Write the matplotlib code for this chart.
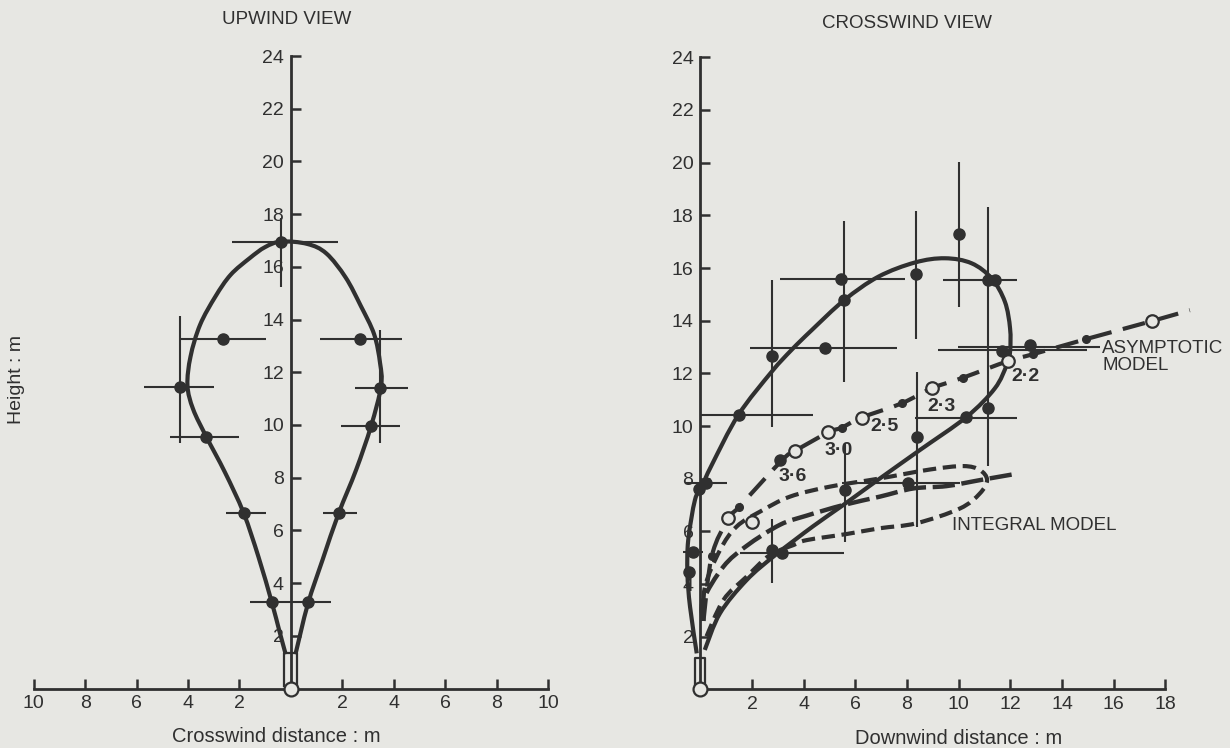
import numpy as np
import matplotlib
matplotlib.use("Agg")
from matplotlib import pyplot as plt
from matplotlib.path import Path
from matplotlib.patches import PathPatch

plt.rcParams['font.family'] = ['Liberation Sans', 'DejaVu Sans']

INK = '#303030'
PAPER = '#e7e7e3'

# ---------------- upwind view (left) ----------------
up_curve_x = [-0.2, -0.45, -0.74, -1.26, -1.84, -2.56, -3.29, -3.8, -4.02, -3.9, -3.53,
              -2.93, -2.34, -1.6, -1.0, -0.37, 0.64, 1.38, 2.13, 2.72, 3.24, 3.47, 3.51,
              3.12, 2.54, 1.86, 1.24, 0.66, 0.18]
up_curve_y = [1.3, 2.2, 3.27, 5.0, 6.67, 8.2, 9.56, 10.6, 11.5, 12.6, 13.8,
              14.88, 15.7, 16.33, 16.75, 16.96, 16.87, 16.51, 15.6, 14.52, 13.44, 12.35, 11.48,
              9.96, 8.3, 6.65, 4.9, 3.2, 1.3]

up_pts_x = [-0.37, -2.62, -4.31, -3.29, -1.84, -0.74, 0.67, 1.87, 3.11, 3.47, 2.68]
up_pts_y = [16.93, 13.25, 11.46, 9.56, 6.67, 3.27, 3.27, 6.67, 9.96, 11.4, 13.25]

up_hbar_y = [16.93, 13.25, 11.46, 9.56, 6.67, 3.27, 6.67, 9.96, 11.4, 13.25]
up_hbar_x0 = [-2.3, -4.28, -5.7, -4.7, -2.54, -1.58, 1.25, 1.97, 2.49, 1.12]
up_hbar_x1 = [1.85, -0.98, -3.0, -2.02, -0.96, 1.57, 2.57, 4.23, 4.55, 4.32]

up_vbar_x = [-0.4, -4.31, 3.47]
up_vbar_y0 = [15.24, 9.3, 9.3]
up_vbar_y1 = [17.87, 14.15, 13.6]

up_xticks = [-10, -8, -6, -4, -2, 2, 4, 6, 8, 10]

# ---------------- crosswind view (right) ----------------
cw_curve_x = [-0.14, -0.4, -0.5, -0.47, -0.21, 0.05, 0.44, 1.47, 2.76, 3.53, 4.31, 5.57,
              6.89, 8.31, 9.47, 10.5, 11.28, 11.79, 11.99, 11.99, 11.86, 11.4, 10.31, 8.5,
              6.95, 5.53, 4.37, 2.9, 1.79, 0.76, 0.17]
cw_curve_y = [1.37, 3.14, 4.4, 5.67, 7.19, 7.7, 8.52, 10.42, 12.06, 12.89, 13.64, 14.78,
              15.67, 16.21, 16.37, 16.18, 15.6, 14.72, 13.71, 12.82, 12.32, 11.43, 10.35, 9.09,
              8.01, 7.0, 6.2, 5.1, 4.15, 2.89, 1.5]

cw_pts_x = [-0.43, -0.27, -0.05, 0.2, 1.51, 2.76, 4.82, 5.43, 5.56, 8.35, 10.0, 11.15, 11.4,
            11.66, 12.76, 11.15, 10.28, 8.37, 8.05, 5.6, 2.76, 3.15, 3.08]
cw_pts_y = [4.47, 5.23, 7.6, 7.85, 10.42, 12.66, 12.95, 15.57, 14.78, 15.77, 17.29, 15.54, 15.54,
            12.86, 13.07, 10.7, 10.35, 9.59, 7.82, 7.57, 5.29, 5.17, 8.71]

cw_hbar_y = [7.82, 5.23, 10.42, 12.95, 15.57, 15.54, 12.88, 12.99, 10.32, 7.85, 5.17]
cw_hbar_x0 = [-0.6, -0.66, 0.0, 1.92, 3.08, 9.4, 9.21, 9.98, 8.31, 5.5, 1.53]
cw_hbar_x1 = [1.02, 0.12, 4.35, 7.6, 7.92, 12.25, 14.96, 15.47, 12.27, 10.05, 5.56]

cw_vbar_x = [2.76, 5.56, 8.35, 10.0, 11.15, 8.37, 5.6, 2.76]
cw_vbar_y0 = [9.97, 11.68, 13.29, 14.53, 8.48, 6.18, 5.61, 4.03]
cw_vbar_y1 = [15.54, 17.8, 18.17, 20.03, 18.33, 12.06, 9.35, 6.46]

# asymptotic model
asym_x = [0.12, 0.44, 1.08, 1.51, 3.17, 3.66, 4.95, 5.47, 6.24, 7.79, 8.95, 10.18, 11.92,
          12.89, 14.93, 17.5, 18.95]
asym_y = [2.6, 5.06, 6.49, 6.94, 8.71, 9.05, 9.76, 9.94, 10.32, 10.86, 11.43, 11.84, 12.47,
          12.73, 13.3, 13.99, 14.4]
asym_open_x = [1.08, 1.98, 3.66, 4.95, 6.24, 8.95, 11.92, 17.5]
asym_open_y = [6.49, 6.37, 9.05, 9.76, 10.32, 11.43, 12.47, 13.99]
asym_dot_x = [0.44, 1.51, 5.47, 7.79, 10.18, 12.89, 14.93]
asym_dot_y = [5.06, 6.94, 9.94, 10.86, 11.84, 12.73, 13.3]
asym_lbl = ['3·6', '3·0', '2·5', '2·3', '2·2']
asym_lbl_x = [3.56, 5.34, 7.11, 9.33, 12.59]
asym_lbl_y = [8.1, 9.09, 9.97, 10.76, 11.87]

# integral model
intg_loop_x = [0.12, 0.18, 0.76, 1.4, 2.31, 3.47, 5.02, 6.95, 8.89, 10.18, 10.82, 11.1, 10.82,
               10.05, 8.37, 6.95, 5.66, 4.12, 3.6, 2.69, 1.79, 0.89, 0.18]
intg_loop_y = [2.6, 3.9, 5.29, 6.18, 6.75, 7.32, 7.7, 8.01, 8.35, 8.48, 8.33, 7.95, 7.44,
               6.87, 6.31, 6.12, 5.9, 5.67, 5.48, 5.1, 4.28, 3.39, 1.88]
intg_axis_x = [0.1, 0.11, 0.89, 1.79, 3.08, 4.12, 5.53, 6.95, 8.24, 9.53, 10.84, 12.13]
intg_axis_y = [2.6, 3.39, 4.66, 5.45, 6.25, 6.6, 7.0, 7.32, 7.63, 7.72, 7.95, 8.17]

cw_xticks = [2, 4, 6, 8, 10, 12, 14, 16, 18]
yticks = list(range(2, 25, 2))


def smooth(ax, xs, ys, **kw):
    # catmull-rom through the read points, drawn as bezier path
    p = np.column_stack([xs, ys]).astype(float)
    n = len(p)
    verts = [p[0]]
    codes = [Path.MOVETO]
    for i in range(n - 1):
        p0 = p[i - 1] if i > 0 else p[i]
        p3 = p[i + 2] if i + 2 < n else p[i + 1]
        verts += [p[i] + (p[i + 1] - p0) / 6, p[i + 1] - (p3 - p[i]) / 6, p[i + 1]]
        codes += [Path.CURVE4] * 3
    patch = PathPatch(Path(verts, codes), fill=False, edgecolor=INK, clip_on=False,
                      capstyle='butt', joinstyle='round', **kw)
    ax.add_patch(patch)


def nozzle(ax, x0, x1, top):
    ax.plot([x0, x0, x1, x1], [0.1, top, top, 0.1], color=INK, lw=1.6, zorder=4,
            clip_on=False)
    ax.plot([0], [0], 'o', ms=10, mfc=PAPER, mec=INK, mew=1.6, clip_on=False, zorder=6)


def style_axes(ax):
    ax.set_facecolor('none')
    for s in ['top', 'right']:
        ax.spines[s].set_visible(False)
    for s in ['left', 'bottom']:
        ax.spines[s].set_color(INK)
        ax.spines[s].set_linewidth(2.0)
    ax.tick_params(direction='in', length=7, width=1.8, color=INK, labelcolor=INK,
                   labelsize=14, pad=5)
    ax.set_ylim(0, 24)
    ax.set_yticks(yticks)


fig = plt.figure(figsize=(12.3, 7.48), dpi=100)
fig.patch.set_facecolor(PAPER)

# ---- left panel ----
ax1 = fig.add_axes([0.0274, 0.0795, 0.4181, 0.8456])
style_axes(ax1)
ax1.set_xlim(-10, 10)
ax1.spines['left'].set_position(('data', 0))
ax1.set_xticks(up_xticks)
ax1.set_xticklabels([str(abs(v)) for v in up_xticks])

smooth(ax1, up_curve_x, up_curve_y, lw=3.0, zorder=3)
ax1.hlines(up_hbar_y, up_hbar_x0, up_hbar_x1, color=INK, lw=1.5, zorder=2)
ax1.vlines(up_vbar_x, up_vbar_y0, up_vbar_y1, color=INK, lw=1.5, zorder=2)
ax1.plot(up_pts_x, up_pts_y, 'o', ms=8, color=INK, zorder=5)
nozzle(ax1, -0.28, 0.23, 1.34)

# ---- right panel ----
ax2 = fig.add_axes([0.5694, 0.0783, 0.378, 0.8451])
style_axes(ax2)
ax2.set_xlim(0, 18)
ax2.set_xticks(cw_xticks)

smooth(ax2, cw_curve_x, cw_curve_y, lw=3.0, zorder=3)
smooth(ax2, intg_loop_x, intg_loop_y, lw=3.0, linestyle=(0, (3.2, 1.6)), zorder=3)
smooth(ax2, intg_axis_x, intg_axis_y, lw=3.2, linestyle=(0, (5.0, 1.5)), zorder=3)
smooth(ax2, asym_x, asym_y, lw=3.0, linestyle=(0, (5.5, 2.8)), zorder=3)

ax2.hlines(cw_hbar_y, cw_hbar_x0, cw_hbar_x1, color=INK, lw=1.5, zorder=2, clip_on=False)
ax2.vlines(cw_vbar_x, cw_vbar_y0, cw_vbar_y1, color=INK, lw=1.5, zorder=2)
ax2.plot(cw_pts_x, cw_pts_y, 'o', ms=8, color=INK, zorder=5, clip_on=False)
ax2.plot(asym_dot_x, asym_dot_y, 'o', ms=5.5, color=INK, zorder=5, clip_on=False)
ax2.plot(asym_open_x, asym_open_y, 'o', ms=9, mfc=PAPER, mec=INK, mew=1.6, zorder=6,
         clip_on=False)
for t, x, y in zip(asym_lbl, asym_lbl_x, asym_lbl_y):
    ax2.text(x, y, t, fontsize=14, fontweight='bold', color=INK, ha='center', va='center')
nozzle(ax2, -0.19, 0.19, 1.2)

ax2.text(15.55, 12.62, 'ASYMPTOTIC\nMODEL', fontsize=13.5, color=INK, ha='left', va='center',
         linespacing=1.0, clip_on=False)
ax2.text(9.73, 6.22, 'INTEGRAL MODEL', fontsize=13.5, color=INK, ha='left', va='center')

# ---- titles / labels ----
fig.text(287 / 1230, 1 - 20 / 748, 'UPWIND VIEW', fontsize=13.5, color=INK,
         ha='center', va='center')
fig.text(907 / 1230, 1 - 24 / 748, 'CROSSWIND VIEW', fontsize=13.5, color=INK,
         ha='center', va='center')
fig.text(17 / 1230, 1 - 380 / 748, 'Height : m', fontsize=14, color=INK, rotation=90,
         ha='center', va='center')
fig.text(276 / 1230, 1 - 736 / 748, 'Crosswind distance : m', fontsize=14.5, color=INK,
         ha='center', va='center')
fig.text(959 / 1230, 1 - 738 / 748, 'Downwind distance : m', fontsize=14.5, color=INK,
         ha='center', va='center')

fig.savefig('out.png', dpi=100, facecolor=PAPER)
